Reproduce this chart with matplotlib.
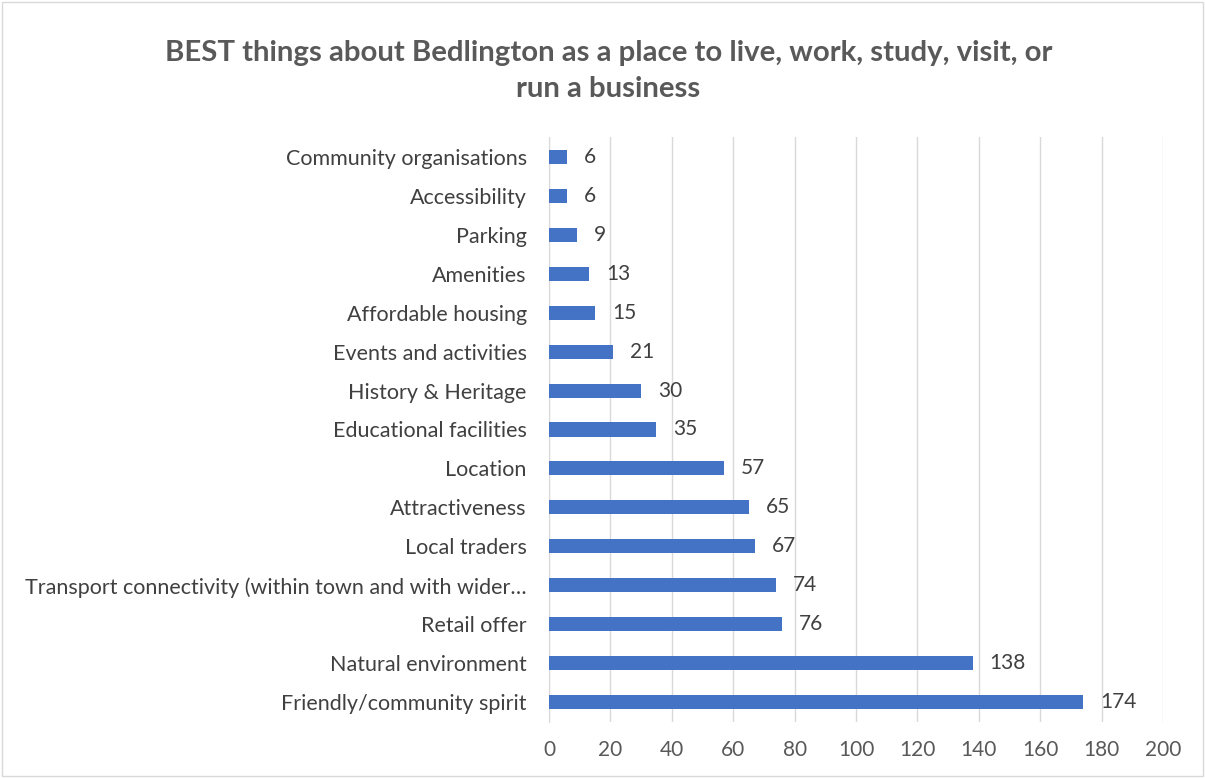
import matplotlib
matplotlib.use("Agg")
import matplotlib.pyplot as plt

categories = ["Friendly/community spirit", "Natural environment", "Retail offer",
              "Transport connectivity (within town and with wider\u2026", "Local traders",
              "Attractiveness", "Location", "Educational facilities", "History & Heritage",
              "Events and activities", "Affordable housing", "Amenities", "Parking",
              "Accessibility", "Community organisations"]
values = [174, 138, 76, 74, 67, 65, 57, 35, 30, 21, 15, 13, 9, 6, 6]
xticks = [0, 20, 40, 60, 80, 100, 120, 140, 160, 180, 200]

plt.rcParams['font.family'] = ['Lato', 'DejaVu Sans']
fig = plt.figure(figsize=(12.05, 7.78), dpi=100)
ax = fig.add_axes([0.4556, 0.0726, 0.5095, 0.7507])

y = list(range(len(categories)))
ax.barh(y, values, height=0.36, color='#4472C4', zorder=3)
for yi, v in zip(y, values):
    ax.text(v + 5.5, yi, str(v), va='center', ha='left', fontsize=15, color='#404040')

ax.set_xlim(0, 200)
ax.set_ylim(-0.5, len(categories) - 0.5)
ax.set_xticks(xticks)
ax.set_xticklabels([str(t) for t in xticks], fontsize=15, color='#595959')
ax.set_yticks(y)
ax.set_yticklabels(categories, fontsize=15.5, color='#404040')
ax.xaxis.grid(True, color='#d9d9d9', linewidth=1, zorder=0)
ax.tick_params(axis='both', length=0)
ax.tick_params(axis='y', pad=16)
ax.tick_params(axis='x', pad=13)
for s in ['top', 'right', 'bottom']:
    ax.spines[s].set_visible(False)
ax.spines['left'].set_color('#d9d9d9')

fig.text(0.505, 0.909, "BEST things about Bedlington as a place to live, work, study, visit, or\nrun a business",
         ha='center', va='center', fontsize=21.2, fontweight='bold', color='#595959', linespacing=1.5)

border = plt.Rectangle((0.002, 0.002), 0.996, 0.996, transform=fig.transFigure,
                       fill=False, edgecolor='#d9d9d9', linewidth=1)
fig.patches.append(border)

fig.savefig("out.png", dpi=100)
